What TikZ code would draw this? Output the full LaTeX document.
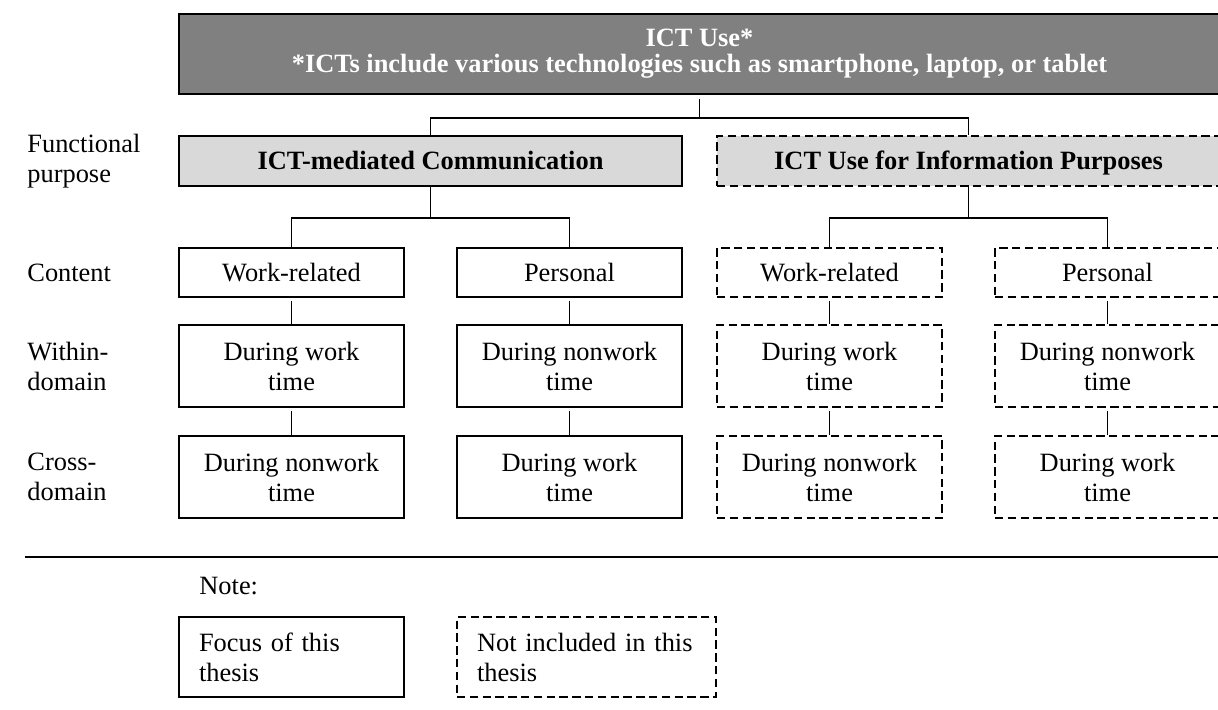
\documentclass[tikz,border=0pt]{standalone}
\usepackage{fontspec}
\setmainfont{Liberation Serif}
\definecolor{topgray}{RGB}{128,128,128}
\definecolor{funcgray}{RGB}{217,217,217}
\begin{document}
\begin{tikzpicture}[x=0.5pt,y=-0.5pt,
  every node/.style={font=\fontsize{13.2}{15}\selectfont, inner sep=0pt},
  box/.style={draw=black, line width=1pt, rectangle, align=center},
  dashbox/.style={box, dash pattern=on 4.2pt off 2.2pt},
  cell/.style={minimum width=112.5pt, minimum height=24.5pt,
    text height=9pt, text depth=0.5pt},
  tallcell/.style={minimum width=112.5pt, minimum height=41pt},
  funcbox/.style={fill=funcgray, minimum width=251.5pt, minimum height=25pt,
    text height=9pt, text depth=1pt,
    font=\fontsize{13.2}{15}\selectfont\bfseries},
  conn/.style={draw=black, line width=0.75pt},
  rowlabel/.style={anchor=west, align=left},
  legend/.style={box, minimum height=40pt, align=left}
]
\useasboundingbox (0,0) rectangle (1218,709);
\clip (0,0) rectangle (1218,709);
\fill[white] (0,0) rectangle (1218,709);

% top level
\node[box, fill=topgray, text=white, minimum width=520.5pt, minimum height=40pt,
      font=\fontsize{13.2}{15}\selectfont\bfseries] (top) at (699.5,54)
  {ICT Use*\\[-2pt]{}*ICTs include various technologies such as smartphone, laptop, or tablet};

% functional purpose
\node[box, funcbox] (comm) at (430.5,161) {ICT-mediated Communication};
\node[dashbox, funcbox] (info) at (968.5,161) {ICT Use for Information Purposes};

% content
\node[box, cell] (cw) at (291.5,272.5) {Work-related};
\node[box, cell] (cp) at (569.5,272.5) {Personal};
\node[dashbox, cell] (iw) at (829.5,272.5) {Work-related};
\node[dashbox, cell] (ip) at (1107.5,272.5) {Personal};

% within-domain
\node[box, tallcell] (cww) at (291.5,366) {During work\\time};
\node[box, tallcell] (cpw) at (569.5,366) {During nonwork\\time};
\node[dashbox, tallcell] (iww) at (829.5,366) {During work\\time};
\node[dashbox, tallcell] (ipw) at (1107.5,366) {During nonwork\\time};

% cross-domain
\node[box, tallcell] (cwc) at (291.5,477) {During nonwork\\time};
\node[box, tallcell] (cpc) at (569.5,477) {During work\\time};
\node[dashbox, tallcell] (iwc) at (829.5,477) {During nonwork\\time};
\node[dashbox, tallcell] (ipc) at (1107.5,477) {During work\\time};

% row labels
\node[rowlabel] (lfunc) at (27,161) {Functional\\purpose};
\node[rowlabel] (lcont) at (27,272.5) {Content};
\node[rowlabel] (lwithin) at (27,366) {Within-\\domain};
\node[rowlabel] (lcross) at (27,477) {Cross-\\domain};

% tree connectors
\draw[conn, shorten <=2pt] (top.south) -- ++(0,23) coordinate (j0);
\draw[conn] (comm.north) |- (j0) -| (info.north);
\draw[conn] (comm.south) -- ++(0,31) coordinate (j1);
\draw[conn] (cw.north) |- (j1) -| (cp.north);
\draw[conn] (info.south) -- ++(0,31) coordinate (j2);
\draw[conn] (iw.north) |- (j2) -| (ip.north);

\foreach \a/\b in {cw/cww, cp/cpw, iw/iww, ip/ipw, cww/cwc, cpw/cpc, iww/iwc, ipw/ipc}
  \draw[conn, shorten <=1.5pt] (\a.south) -- (\b.north);

% separator
\draw[line width=1pt] (25,556.5) coordinate (r0) -- (1230,556.5) coordinate (r1);

% legend
\node[anchor=base west] (note) at (199,594) {Note:};
\node[legend, minimum width=112.5pt, text width=92.5pt] (focus) at (291.5,657)
  {Focus of this\\thesis};
\node[legend, dash pattern=on 4.2pt off 2.2pt, minimum width=129.5pt, text width=109.5pt]
  (notinc) at (586.5,657) {Not included in this\\thesis};
\end{tikzpicture}
\end{document}
